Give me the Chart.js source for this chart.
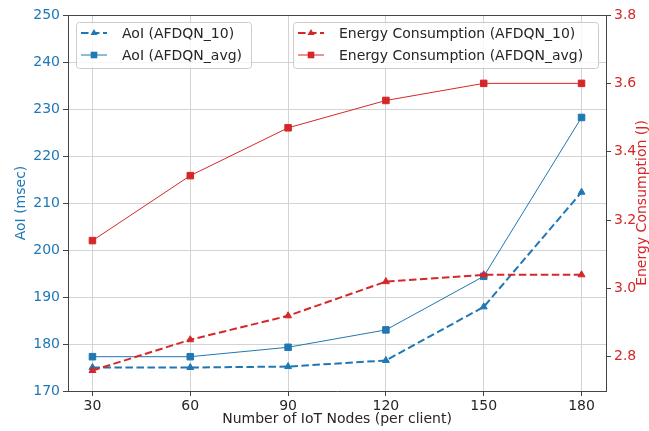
<!DOCTYPE html>
<html>
<head>
<meta charset="utf-8">
<script src="https://cdn.jsdelivr.net/npm/chart.js@4/dist/chart.umd.min.js"></script>
<style>
  body { margin: 0; background: #ffffff; }
</style>
</head>
<body>
<canvas id="myChart" width="649" height="431"></canvas>
<script>
// Chart data
var nodes = [30, 60, 90, 120, 150, 180];
var aoi10 = [175.0, 175.0, 175.2, 176.5, 187.9, 212.3];
var aoiAvg = [177.3, 177.3, 179.3, 183.0, 194.4, 228.2];
var energy10 = [2.76, 2.85, 2.92, 3.02, 3.04, 3.04];
var energyAvg = [3.14, 3.33, 3.47, 3.55, 3.60, 3.60];

// Tick labels
var xTicks = [30, 60, 90, 120, 150, 180];
var aoiTicks = [170, 180, 190, 200, 210, 220, 230, 240, 250];
var energyTicks = [2.8, 3.0, 3.2, 3.4, 3.6, 3.8];

var blue = '#1f77b4';
var red = '#d62728';
var spineColor = '#444444';
var gridColor = '#d3d3d3';
var fontFamily = '"DejaVu Sans", sans-serif';

function toPoints(values) {
    return nodes.map(function(n, i) {
        return { x: n, y: values[i] };
    });
}

function fixTicks(list) {
    return function(scale) {
        scale.ticks = list.map(function(v) { return { value: v }; });
    };
}

// draws a marker for the custom legend
function drawMarker(ctx, style, x, y, color) {
    ctx.fillStyle = color;
    ctx.beginPath();
    if (style === 'rect') {
        ctx.rect(x - 3.3, y - 3.3, 6.6, 6.6);
    } else {
        ctx.moveTo(x, y - 4);
        ctx.lineTo(x + 3.5, y + 2);
        ctx.lineTo(x - 3.5, y + 2);
        ctx.closePath();
    }
    ctx.fill();
}

function drawLegendBox(chart, x, y, w, h, indexes) {
    var ctx = chart.ctx;
    ctx.save();
    ctx.fillStyle = 'rgba(255,255,255,0.8)';
    ctx.strokeStyle = '#cccccc';
    ctx.lineWidth = 1;
    ctx.beginPath();
    ctx.roundRect(x + 0.5, y + 0.5, w, h, 3);
    ctx.fill();
    ctx.stroke();

    indexes.forEach(function(idx, i) {
        var ds = chart.data.datasets[idx];
        var cy = y + 11 + i * 22;
        ctx.strokeStyle = ds.borderColor;
        ctx.lineWidth = ds.borderWidth;
        ctx.setLineDash(ds.borderDash || []);
        ctx.beginPath();
        ctx.moveTo(x + 5, cy);
        ctx.lineTo(x + 31, cy);
        ctx.stroke();
        ctx.setLineDash([]);
        drawMarker(ctx, ds.pointStyle, x + 18, cy, ds.borderColor);

        ctx.fillStyle = '#262626';
        ctx.font = '14px ' + fontFamily;
        ctx.textBaseline = 'middle';
        ctx.textAlign = 'left';
        ctx.fillText(ds.label, x + 46, cy + 1);
    });
    ctx.restore();
}

// top spine, right axis title (reads bottom to top) and the two legends
var framePlugin = {
    id: 'frame',
    afterDraw: function(chart) {
        var a = chart.chartArea;
        var ctx = chart.ctx;
        ctx.save();
        ctx.strokeStyle = spineColor;
        ctx.lineWidth = 1;
        ctx.beginPath();
        ctx.moveTo(a.left, a.top + 0.5);
        ctx.lineTo(a.right, a.top + 0.5);
        ctx.stroke();

        ctx.translate(642, (a.top + a.bottom) / 2);
        ctx.rotate(-Math.PI / 2);
        ctx.fillStyle = red;
        ctx.font = '14px ' + fontFamily;
        ctx.textAlign = 'center';
        ctx.textBaseline = 'middle';
        ctx.fillText('Energy Consumption (J)', 0, 0);
        ctx.restore();

        drawLegendBox(chart, 76, 22, 175, 46, [0, 1]);
        drawLegendBox(chart, 293, 22, 305, 46, [2, 3]);
    }
};

var ctx = document.getElementById('myChart').getContext('2d');
var myChart = new Chart(ctx, {
    type: 'line',
    data: {
        datasets: [{
            label: 'AoI (AFDQN_10)',
            data: toPoints(aoi10),
            yAxisID: 'y',
            borderColor: blue,
            backgroundColor: blue,
            borderWidth: 2,
            borderDash: [7.5, 3.5],
            pointStyle: 'triangle',
            pointRadius: 4,
            pointBorderWidth: 1,
            order: 4
        }, {
            label: 'AoI (AFDQN_avg)',
            data: toPoints(aoiAvg),
            yAxisID: 'y',
            borderColor: blue,
            backgroundColor: blue,
            borderWidth: 1,
            pointStyle: 'rect',
            pointRadius: 4.6,
            pointBorderWidth: 1,
            order: 3
        }, {
            label: 'Energy Consumption (AFDQN_10)',
            data: toPoints(energy10),
            yAxisID: 'y2',
            borderColor: red,
            backgroundColor: red,
            borderWidth: 2,
            borderDash: [7.5, 3.5],
            pointStyle: 'triangle',
            pointRadius: 4,
            pointBorderWidth: 1,
            order: 2
        }, {
            label: 'Energy Consumption (AFDQN_avg)',
            data: toPoints(energyAvg),
            yAxisID: 'y2',
            borderColor: red,
            backgroundColor: red,
            borderWidth: 1,
            pointStyle: 'rect',
            pointRadius: 4.6,
            pointBorderWidth: 1,
            order: 1
        }]
    },
    options: {
        responsive: false,
        animation: false,
        devicePixelRatio: 1,
        layout: { padding: { top: 15, left: 0, right: 0, bottom: 0 } },
        plugins: {
            legend: { display: false },
            tooltip: { enabled: false }
        },
        scales: {
            x: {
                type: 'linear',
                min: 22.5,
                max: 187.5,
                afterBuildTicks: fixTicks(xTicks),
                afterFit: function(scale) { scale.height = 40; },
                grid: { color: gridColor, tickColor: spineColor, tickLength: 5 },
                border: { display: true, color: spineColor, width: 1 },
                ticks: {
                    color: '#262626',
                    font: { family: fontFamily, size: 14 },
                    padding: 2,
                    maxRotation: 0
                },
                title: {
                    display: true,
                    text: 'Number of IoT Nodes (per client)',
                    color: '#262626',
                    font: { family: fontFamily, size: 14 },
                    padding: { top: 0, bottom: 3 }
                }
            },
            y: {
                position: 'left',
                min: 170,
                max: 250,
                afterBuildTicks: fixTicks(aoiTicks),
                afterFit: function(scale) { scale.width = 68; },
                grid: { color: gridColor, tickColor: spineColor, tickLength: 5 },
                border: { display: true, color: spineColor, width: 1 },
                ticks: {
                    color: blue,
                    font: { family: fontFamily, size: 14 },
                    padding: 3
                },
                title: {
                    display: true,
                    text: 'AoI (msec)',
                    color: blue,
                    font: { family: fontFamily, size: 14 },
                    padding: { top: 13, bottom: 0 }
                }
            },
            y2: {
                position: 'right',
                min: 2.7,
                max: 3.8,
                afterBuildTicks: fixTicks(energyTicks),
                afterFit: function(scale) { scale.width = 43; },
                grid: { drawOnChartArea: false, tickColor: spineColor, tickLength: 5 },
                border: { display: true, color: spineColor, width: 1 },
                ticks: {
                    color: red,
                    font: { family: fontFamily, size: 14 },
                    padding: 3,
                    callback: function(v) { return v.toFixed(1); }
                }
            }
        }
    },
    plugins: [framePlugin]
});
</script>
</body>
</html>
